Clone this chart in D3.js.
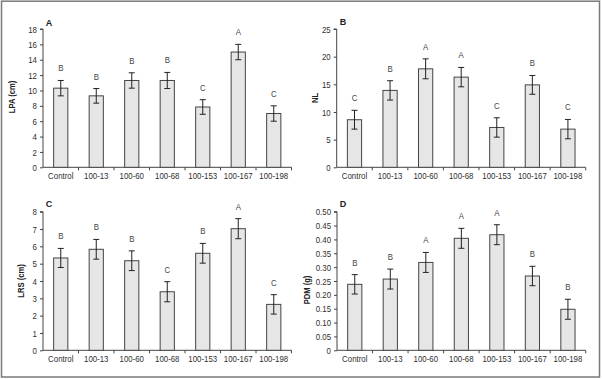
<!DOCTYPE html>
<html><head><meta charset="utf-8">
<script src="https://cdn.jsdelivr.net/npm/d3@7"></script>
<style>
body{margin:0;background:#fff;}
svg{display:block;}
text{font-family:"Liberation Sans",Arial,sans-serif;}
</style></head>
<body>
<svg id="c" width="602" height="379"></svg>
<script>
const categories = ["Control","100-13","100-60","100-68","100-153","100-167","100-198"];

const lpaValues = [10.3, 9.3, 11.3, 11.3, 7.85, 15.0, 7.0];
const lpaErrors = [1.0, 0.95, 1.0, 1.05, 0.95, 1.0, 1.0];
const lpaLetters = ["B","B","B","B","C","A","C"];
const lpaTicks = [0,2,4,6,8,10,12,14,16,18];

const nlValues = [8.6, 13.9, 17.8, 16.3, 7.2, 14.9, 6.9];
const nlErrors = [1.7, 1.75, 1.8, 1.75, 1.75, 1.7, 1.75];
const nlLetters = ["C","B","A","A","C","B","C"];
const nlTicks = [0,5,10,15,20,25];

const lrsValues = [5.33, 5.83, 5.17, 3.38, 5.6, 7.02, 2.65];
const lrsErrors = [0.55, 0.57, 0.57, 0.58, 0.57, 0.58, 0.56];
const lrsLetters = ["B","B","B","C","B","A","C"];
const lrsTicks = [0,1,2,3,4,5,6,7,8];

const pdmValues = [0.238, 0.257, 0.317, 0.404, 0.417, 0.268, 0.148];
const pdmErrors = [0.035, 0.036, 0.036, 0.036, 0.036, 0.035, 0.036];
const pdmLetters = ["B","B","A","A","A","B","B"];
const pdmTicks = [0,0.05,0.10,0.15,0.20,0.25,0.30,0.35,0.40,0.45,0.50];

const SX = 0.82;      // horizontal condensing of text (narrow face)
const FS = 9.6;

const svg = d3.select("#c");
svg.append("rect").attr("x",1.5).attr("y",1.2).attr("width",598).attr("height",375.8)
  .attr("fill","#fff").attr("stroke","#7a7a7a").attr("stroke-width",1.5);

const panels = [
  {tag:"A", title:"LPA (cm)", values:lpaValues, errors:lpaErrors, letters:lpaLetters, ticks:lpaTicks, fmt:d=>String(d),
   x0:43, x1:291.5, y0:167.3, y1:29, tagX:49, tagY:26, titleX:12.5, titleY:97},
  {tag:"B", title:"NL", values:nlValues, errors:nlErrors, letters:nlLetters, ticks:nlTicks, fmt:d=>String(d),
   x0:336.7, x1:585.7, y0:167.3, y1:29, tagX:343, tagY:25, titleX:315, titleY:98},
  {tag:"C", title:"LRS (cm)", values:lrsValues, errors:lrsErrors, letters:lrsLetters, ticks:lrsTicks, fmt:d=>String(d),
   x0:43, x1:291.5, y0:350.3, y1:211.7, tagX:49, tagY:207, titleX:21, titleY:281},
  {tag:"D", title:"PDM (g)", values:pdmValues, errors:pdmErrors, letters:pdmLetters, ticks:pdmTicks, fmt:d=>d===0?"0":d.toFixed(2),
   x0:337, x1:585.7, y0:350.3, y1:211.7, tagX:343, tagY:207, titleX:307, titleY:290}
];

panels.forEach(p => {
  const g = svg.append("g");
  const maxT = p.ticks[p.ticks.length-1];
  const x = d3.scaleBand().domain(categories).range([p.x0, p.x1]).paddingInner(0.6).paddingOuter(0.3);
  const y = d3.scaleLinear().domain([0, maxT]).range([p.y0, p.y1]);
  const step = (p.x1 - p.x0) / categories.length;

  // y axis
  const ya = g.append("g").attr("transform",`translate(${p.x0},0)`)
    .call(d3.axisLeft(y).tickValues(p.ticks).tickFormat(p.fmt).tickSize(3).tickPadding(3));
  ya.select(".domain").attr("stroke","#444").attr("d",`M-3,${p.y1}H0V${p.y0}`);
  ya.selectAll(".tick line").attr("stroke","#444");
  ya.selectAll(".tick text").attr("font-size",FS).attr("fill","#2e2e2e")
    .attr("x",-6/SX).attr("transform",`scale(${SX},1)`);

  // x axis
  const xa = g.append("g").attr("transform",`translate(0,${p.y0})`)
    .call(d3.axisBottom(x).tickSize(0).tickPadding(5));
  xa.select(".domain").attr("stroke","#444").attr("d",`M${p.x0},0H${p.x1}`);
  xa.selectAll(".tick text").attr("font-size",FS).attr("fill","#2e2e2e")
    .attr("transform",`scale(${SX},1)`);
  xa.selectAll("line.sep").data(d3.range(1, categories.length+1)).join("line")
    .attr("class","sep").attr("x1",i=>p.x0+i*step).attr("x2",i=>p.x0+i*step)
    .attr("y1",0).attr("y2",3).attr("stroke","#444");

  const data = categories.map((c,i)=>({c, v:p.values[i], e:p.errors[i], l:p.letters[i]}));

  g.selectAll("rect.bar").data(data).join("rect").attr("class","bar")
    .attr("x",d=>x(d.c)).attr("width",x.bandwidth())
    .attr("y",d=>y(d.v)).attr("height",d=>y(0)-y(d.v))
    .attr("fill","#e6e6e6").attr("stroke","#444").attr("stroke-width",1);

  const eb = g.selectAll("g.err").data(data).join("g").attr("class","err")
    .attr("transform",d=>`translate(${x(d.c)+x.bandwidth()/2},0)`);
  eb.append("line").attr("y1",d=>y(d.v+d.e)).attr("y2",d=>y(d.v-d.e)).attr("stroke","#222").attr("stroke-width",1);
  eb.append("line").attr("x1",-3).attr("x2",3).attr("y1",d=>y(d.v+d.e)).attr("y2",d=>y(d.v+d.e)).attr("stroke","#222");
  eb.append("line").attr("x1",-3).attr("x2",3).attr("y1",d=>y(d.v-d.e)).attr("y2",d=>y(d.v-d.e)).attr("stroke","#222");
  eb.append("text").attr("y",d=>y(d.v+d.e)-9).attr("text-anchor","middle")
    .attr("transform",`scale(${SX},1)`)
    .attr("font-size",FS).attr("fill","#444").text(d=>d.l);

  g.append("text").attr("x",p.tagX).attr("y",p.tagY).attr("font-size",9).attr("font-weight","bold")
    .attr("fill","#222").attr("text-anchor","middle").text(p.tag);
  g.append("text").attr("transform",`translate(${p.titleX},${p.titleY}) rotate(-90) scale(0.8,1)`)
    .attr("text-anchor","middle").attr("dominant-baseline","middle")
    .attr("font-size",9.5).attr("font-weight","bold").attr("fill","#222").text(p.title);
});
</script>
</body></html>
